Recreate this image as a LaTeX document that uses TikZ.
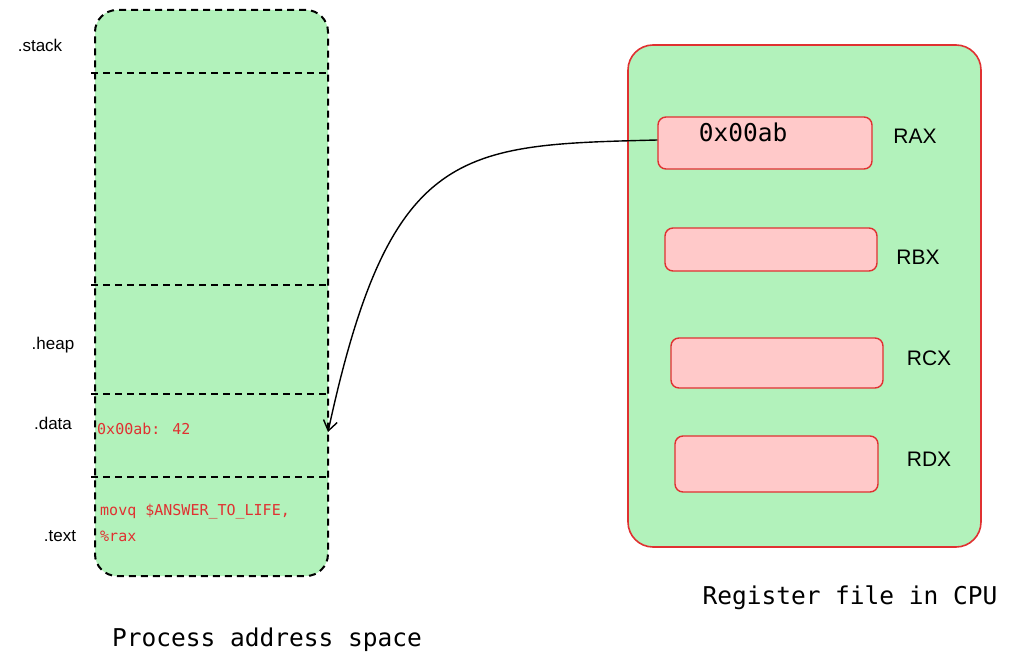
\documentclass[tikz,border=0pt]{standalone}
\usepackage{fontspec}
\usetikzlibrary{arrows.meta}
\setmainfont{Liberation Sans}
\newfontfamily\codefont{DejaVu Sans Mono}
\begin{document}
\begin{tikzpicture}[x=1pt,y=-1pt,
  grn/.style={fill={rgb,255:red,178;green,242;blue,187}},
  redc/.style={draw={rgb,255:red,224;green,49;blue,49}},
  reg/.style={redc,fill={rgb,255:red,255;green,201;blue,201},rounded corners=8,line width=1.4},
  dsh/.style={line width=2,dash pattern=on 7pt off 5pt},
  lbl/.style={font=\fontsize{17}{20}\selectfont},
  rlbl/.style={font=\fontsize{21}{24}\selectfont},
  code/.style={font=\codefont\fontsize{15}{18}\selectfont,text={rgb,255:red,224;green,49;blue,49},anchor=west,inner sep=0},
  title/.style={font=\codefont\fontsize{24.5}{28}\selectfont}]
\useasboundingbox (0,0) rectangle (1014,669);
% left box
\node[grn,draw,dsh,rounded corners=22,minimum width=233,minimum height=566,inner sep=0] (mem) at (211.5,293) {};
\foreach \y in {73,285,394,477} \draw[dsh] (91,\y) -- (330,\y);
\node[lbl] (s) at (40,45) {.stack};
\node[lbl] (h) at (53,345) {.heap};
\node[lbl] (d) at (53,423) {.data};
\node[lbl] (t) at (60,536) {.text};
\node[code] (dv) at (97,429) {0x00ab: 42};
\node[code] (c1) at (100,512) {movq \$ANSWER\_TO\_LIFE,};
\node[code] (c2) at (100,536) {\%rax};
\node[title] (pt) at (267,640) {Process address space};
% right box
\node[grn,redc,line width=1.6,rounded corners=25,minimum width=353,minimum height=502,inner sep=0] (cpu) at (804.5,296) {};
\node[reg,minimum width=214,minimum height=52,inner sep=0] (rax) at (765,143) {};
\node[reg,minimum width=212,minimum height=43,inner sep=0] (rbx) at (771,249.5) {};
\node[reg,minimum width=212,minimum height=50,inner sep=0] (rcx) at (777,363) {};
\node[reg,minimum width=203,minimum height=56,inner sep=0] (rdx) at (776.5,464) {};
\node[title] (val) at (743,132) {0x00ab};
\node[rlbl] (lax) at (915,136) {RAX};
\node[rlbl] (lbx) at (918,257) {RBX};
\node[rlbl] (lcx) at (929,358) {RCX};
\node[rlbl] (ldx) at (929,459) {RDX};
\node[title] (rt) at (850,598) {Register file in CPU};
\coordinate (tip) at (328,432);
\draw[line width=1.4,-{Straight Barb[length=10pt,width=14pt]}] (rax.west) ++(0,-3) .. controls (460,145) and (390,145) .. (tip);
\end{tikzpicture}
\end{document}
